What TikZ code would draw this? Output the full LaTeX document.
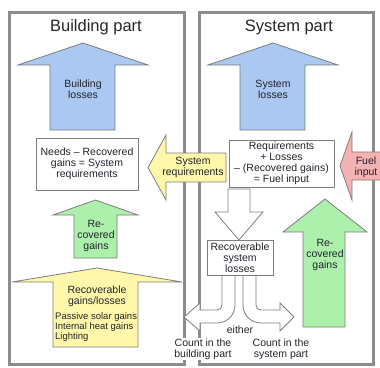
\documentclass[tikz,border=0pt]{standalone}
\usepackage{fontspec}
\setmainfont{Liberation Sans}

\definecolor{panel_gray}{RGB}{140,140,140}
\definecolor{edge_gray}{RGB}{125,125,125}
\definecolor{loss_blue}{RGB}{170,200,242}
\definecolor{gain_green}{RGB}{172,240,172}
\definecolor{req_yellow}{RGB}{255,248,170}
\definecolor{fuel_red}{RGB}{245,178,178}
\definecolor{text_dark}{RGB}{35,35,45}

\begin{document}
\begin{tikzpicture}[x=1pt, y=-1pt]

	\tikzstyle{panel}=[draw=panel_gray, line width=3pt]
	\tikzstyle{block_arrow}=[draw=edge_gray, line width=0.8pt, line join=miter]
	\tikzstyle{loss_arrow}=[block_arrow, fill=loss_blue]
	\tikzstyle{gain_arrow}=[block_arrow, fill=gain_green]
	\tikzstyle{req_arrow}=[block_arrow, fill=req_yellow]
	\tikzstyle{fuel_arrow}=[block_arrow, fill=fuel_red]
	\tikzstyle{either_arrow}=[block_arrow, fill=white]
	\tikzstyle{title_text}=[font=\fontsize{16.5}{18}\selectfont, text=black!85]
	\tikzstyle{label_text}=[align=center, inner sep=0pt, text=text_dark, font=\fontsize{10.5}{11}\selectfont]
	\tikzstyle{text_box}=[label_text, rectangle, draw=edge_gray, line width=0.8pt, fill=white]

	\clip (0,0) rectangle (380,367);

	% the two frames
	\draw[panel] (9,12) rectangle (184,364);
	\draw[panel] (199,12) rectangle (373,364);

	\node[title_text] at (96,27) (building_title) {Building part};
	\node[title_text] at (289,27) (system_title) {System part};

	% losses leaving each part
	\draw[loss_arrow] (50,130) -- (50,65) -- (18,65) -- (83,43) -- (148,65) -- (115,65) -- (115,130) -- cycle;
	\draw[loss_arrow] (240,130) -- (240,65) -- (208,65) -- (273,43) -- (338,65) -- (305,65) -- (305,130) -- cycle;
	\node[label_text] at (83,89) (building_losses) {Building\\losses};
	\node[label_text] at (273,89) (system_losses) {System\\losses};

	% requirements passed from system to building part
	\draw[req_arrow] (226,153) -- (166,153) -- (166,135) -- (148,167.5) -- (166,200) -- (166,182) -- (226,182) -- cycle;
	\node[label_text] at (193,167) (system_requirements) {System\\requirements};

	\draw[fuel_arrow] (390,152) -- (352,152) -- (352,132) -- (340,166) -- (352,200) -- (352,180) -- (390,180) -- cycle;
	\node[label_text] at (366,167) (fuel_input) {Fuel\\input};

	\node[text_box, minimum width=102pt, minimum height=52pt] at (87,164) (needs_box) {Needs -- Recovered\\gains = System\\requirements};
	\node[text_box, minimum width=105pt, minimum height=47pt] at (281.5,163.5) (fuel_box) {Requirements\\+ Losses\\-- (Recovered gains)\\= Fuel input};

	% recovered gains
	\draw[gain_arrow] (74,258) -- (74,215) -- (53,215) -- (95.5,200) -- (138,215) -- (117,215) -- (117,258) -- cycle;
	\node[label_text] at (96,236) (recovered_building) {Re-\\covered\\gains};
	\draw[gain_arrow] (303,327) -- (303,232) -- (283,232) -- (325,199) -- (367,232) -- (345,232) -- (345,327) -- cycle;
	\node[label_text] at (325,255) (recovered_system) {Re-\\covered\\gains};

	\draw[req_arrow] (53,347) -- (53,282) -- (12,282) -- (97,268) -- (182,282) -- (138,282) -- (138,347) -- cycle;
	\node[label_text] at (97,296) (recoverable_gains) {Recoverable\\gains/losses};
	\node[label_text, align=left, anchor=west, font=\fontsize{9.5}{9.7}\selectfont] at (55,327) (gain_list) {Passive solar gains\\Internal heat gains\\Lighting};

	% recoverable system losses and where they are counted
	\draw[either_arrow] (228,189) -- (228,212) -- (215,212) -- (239,240) -- (263,212) -- (250,212) -- (250,189) -- cycle;
	\draw[either_arrow] (222,275) -- (222,305) .. controls (222,308) and (220,310) .. (217,310) -- (200,310) -- (200,303) -- (184,317) -- (200,331) -- (200,323) -- (217,323) .. controls (227,323) and (235,315) .. (235,305) -- (235,275);
	\draw[either_arrow] (243,275) -- (243,305) .. controls (243,315) and (251,323) .. (261,323) -- (280,323) -- (280,331) -- (294,317) -- (280,303) -- (280,310) -- (261,310) .. controls (258,310) and (256,308) .. (256,305) -- (256,275);
	\node[text_box, minimum width=66pt, minimum height=35pt] at (240,257.5) (recoverable_box) {Recoverable\\system\\losses};

	\node[label_text] at (240,330) (either) {either};
	\node[label_text, fill=white, inner sep=1pt] at (203,349) (count_building) {Count in the\\building part};
	\node[label_text] at (281,349) (count_system) {Count in the\\system part};

\end{tikzpicture}
\end{document}
